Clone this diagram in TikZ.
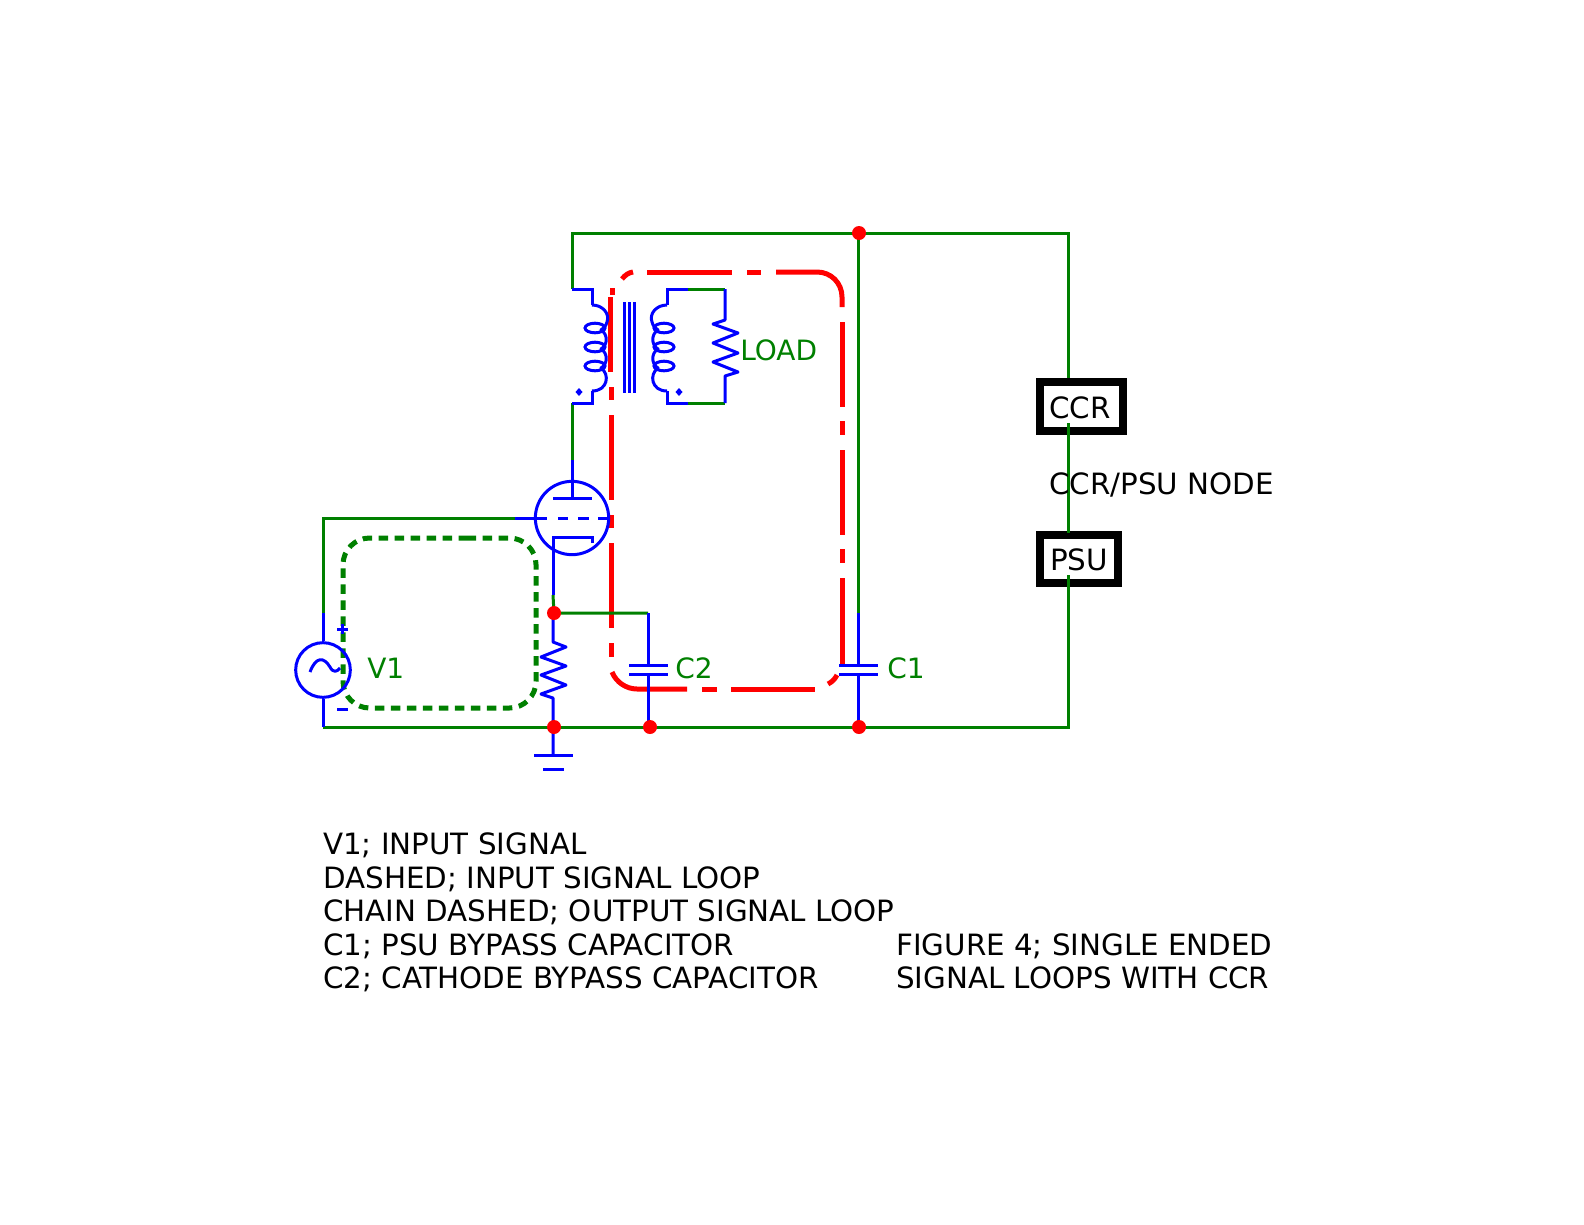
\documentclass[tikz,border=0pt]{standalone}
\usepackage{fontspec}
\setmainfont{DejaVu Sans}
\definecolor{wgreen}{RGB}{0,128,0}
\definecolor{wblue}{RGB}{0,0,255}
\definecolor{wred}{RGB}{255,0,0}
\pgfdeclarelayer{fg}
\pgfsetlayers{main,fg}
\tikzset{
  gw/.style={draw=wgreen,line width=2.25pt,line join=miter},
  bw/.style={draw=wblue,line width=2.25pt,line join=miter},
  zig/.style={draw=wblue,line width=2.25pt,line join=round},
  redloop/.style={draw=wred,line width=3.75pt},
  greenloop/.style={draw=wgreen,line width=3.75pt,rounded corners=20pt,dash pattern=on 7pt off 5pt},
  junction/.style={circle,fill=wred,inner sep=0pt,minimum size=10.5pt},
  boxed/.style={draw=black,fill=white,line width=6.2pt,inner sep=0pt},
  glabel/.style={text=wgreen,font=\fontsize{21pt}{25pt}\selectfont,anchor=west,inner sep=0pt},
  klabel/.style={text=black,font=\fontsize{22pt}{26pt}\selectfont,anchor=base west,inner sep=0pt},
  tubeshape/.style={draw=wblue,line width=2.25pt,circle,inner sep=0pt,minimum size=55pt},
  sourceshape/.style={draw=wblue,line width=2.25pt,circle,inner sep=0pt,minimum size=41pt}
}
\begin{document}
\begin{tikzpicture}[x=0.75pt,y=-0.75pt]
\path[use as bounding box,fill=white] (0,0) rectangle (1584,1224);
% ---- loops (underneath)
\draw[greenloop] (440,538) -- (536,538) -- (536,708) -- (343,708) -- (343,538) -- cycle;
\draw[redloop] (622,279) .. controls (625,275) and (629,272.5) .. (633,272);
\draw[redloop] (647,272) -- (732,272);
\draw[redloop] (747,272) -- (761,272);
\draw[redloop] (776,272) -- (817,272) .. controls (831,272) and (842,283) .. (842,297) -- (842,307);
\draw[redloop] (842,322) -- (842,407);
\draw[redloop] (842,421) -- (842,435);
\draw[redloop] (842,450) -- (842,535);
\draw[redloop] (842,549) -- (842,563);
\draw[redloop] (842,578) -- (842,665);
\draw[redloop] (828,684) .. controls (832,682) and (835,679) .. (837,675);
\draw[redloop] (731,689) -- (815,689);
\draw[redloop] (702,689) -- (717,689);
\draw[redloop] (612,672) .. controls (616,682) and (626,689) .. (637,689) -- (687,689);
\draw[redloop] (611,643) -- (611,657);
\draw[redloop] (611,543) -- (611,628);
\draw[redloop] (611,515) -- (611,528);
\draw[redloop] (611,415) -- (611,500);
\draw[redloop] (611,387) -- (611,400);
\draw[redloop] (610,297) -- (610,372);
\draw[redloop] (612,288) -- (612,295);
% ---- named points
\coordinate (tl) at (572,233);
\coordinate (tr) at (1068,233);
\coordinate (bl) at (323,727);
\coordinate (br) at (1068,727);
\coordinate (pritop) at (572,289);
\coordinate (pribot) at (572,403);
\coordinate (gridend) at (515,518);
\coordinate (gridcorner) at (323,518);
\coordinate (srctop) at (323,613);
\coordinate (c1split) at (858,613);
\coordinate (c2top) at (648,613);
\coordinate (cathsplit) at (553,595);
\coordinate (anodesplit) at (572,460);
% ---- boxes
\node[boxed,minimum width=62pt,minimum height=36.5pt] (ccr) at (1081.5,406.5) {};
\node[boxed,minimum width=58.5pt,minimum height=36.5pt] (psu) at (1079,559) {};
% ---- junctions
\begin{pgfonlayer}{fg}
\node[junction] (jtop) at (859,233) {};
\node[junction] (jcath) at (554,613) {};
\node[junction] (jgnd) at (554,727) {};
\node[junction] (jc2) at (650,727) {};
\node[junction] (jc1) at (859,727) {};
\end{pgfonlayer}
% ---- tube and source
\node[tubeshape] (tube) at (572,518) {};
\node[sourceshape] (src) at (323,670) {};
% ---- green wires
\draw[gw] (pritop) -- (tl) -- (tr) -- (tr |- ccr.north);
\draw[gw] (1068,423) -- (1068,533);
\draw[gw] (1068,575) -- (br) -- (bl);
\draw[gw] (jtop.center) ++(-1,0) -- (c1split);
\draw[gw] (pribot) -- (anodesplit);
\draw[gw] (gridend) -- (gridcorner) -- (srctop);
\draw[gw] (cathsplit) -- (jcath.center) -- (c2top);
\draw[gw] (688,289) -- (725,289);
\draw[gw] (688,403) -- (725,403);
% ---- blue wires
\draw[bw] (srctop) -- (src.north);
\draw[bw] (src.south) -- (bl);
\draw[bw] (anodesplit) -- (572,498);
\draw[bw] (553,498) -- (592,498);
\draw[bw] (gridend) -- (547,518);
\draw[bw] (558,518) -- (568,518);
\draw[bw] (578,518) -- (589,518);
\draw[bw] (598,518) -- (609,518);
\draw[bw] (592,543) -- (592,537) -- (553,537) -- (cathsplit);
% cathode resistor
\draw[zig] (jcath.center) ++(-1,0) -- (553,642) -- (566,647) -- (541,657) -- (566,666) -- (541,675) -- (566,685) -- (541,694) -- (553,698) -- (553,755);
% ground
\draw[bw] (534,755) -- (573,755);
\draw[bw] (543,769) -- (564,769);
% capacitors
\draw[bw] (c2top) -- (648,665);
\draw[bw] (629,665) -- (668,665);
\draw[bw] (629,674) -- (668,674);
\draw[bw] (648,674) -- (648,727);
\draw[bw] (c1split) -- (858,665);
\draw[bw] (839,665) -- (878,665);
\draw[bw] (839,674) -- (878,674);
\draw[bw] (858,674) -- (858,727);
% source details
\draw[bw,line join=round] (310,672) .. controls (316,656) and (324,657) .. (330,667) .. controls (333,673) and (337,672) .. (340,668);
\draw[bw] (337,629) -- (348,629);
\draw[bw] (342.5,624) -- (342.5,634);
\draw[bw] (337,709) -- (348,709);
% transformer core
\draw[bw] (624,302) -- (624,393);
\draw[bw] (629,302) -- (629,393);
\draw[bw] (634,302) -- (634,393);
% windings: primary (s=1) and secondary mirrored (s=-1)
\foreach \s/\o in {1/0,-1/1259}{
  \draw[bw,line join=round] ({\o+\s*592},305) .. controls ({\o+\s*603},305) and ({\o+\s*610},314) .. ({\o+\s*607},322) .. controls ({\o+\s*606},326) and ({\o+\s*604},328) .. ({\o+\s*601},330)
     .. controls ({\o+\s*608},334) and ({\o+\s*608},345) .. ({\o+\s*601},349)
     .. controls ({\o+\s*608},353) and ({\o+\s*608},364) .. ({\o+\s*601},368)
     .. controls ({\o+\s*610},374) and ({\o+\s*608},391) .. ({\o+\s*592},391);
  \foreach \yy in {328,347,366}
    \draw[bw,line width=2.25pt] ({\o+\s*595},\yy) ellipse [x radius=7.5pt,y radius=3.6pt];
}
\draw[bw] (pritop) -- (592,289) -- (592,305);
\draw[bw] (592,391) -- (592,403) -- (pribot);
\draw[bw] (688,289) -- (667,289) -- (667,305);
\draw[bw] (667,391) -- (667,403) -- (688,403);
% load
\draw[zig] (725,289) -- (725,320) -- (713,324) -- (738,333) -- (713,343) -- (738,353) -- (713,362) -- (738,372) -- (725,376) -- (725,403);
% phase dots
\fill[wblue] (579,388) -- (582.5,392) -- (579,396) -- (575.5,392) -- cycle;
\fill[wblue] (679,388) -- (682.5,392) -- (679,396) -- (675.5,392) -- cycle;
% ---- re-stroke of box inner stubs
\draw[gw] (1068,423) -- (1068,436);
\draw[gw] (1068,575) -- (1068,588);
% ---- labels
\node[glabel] (lv1) at (367,668) {V1};
\node[glabel] (lc2) at (675,668) {C2};
\node[glabel] (lc1) at (887,668) {C1};
\node[glabel] (lload) at (740,350) {LOAD};
\node[klabel] (tccr) at (1049,418) {CCR};
\node[klabel] (tpsu) at (1050,570) {PSU};
\node[klabel] (tnode) at (1049,494) {CCR/PSU NODE};
\node[klabel] (t1) at (323,854.5) {V1; INPUT SIGNAL};
\node[klabel] (t2) at (323,888.5) {DASHED; INPUT SIGNAL LOOP};
\node[klabel] (t3) at (323,921.5) {CHAIN DASHED; OUTPUT SIGNAL LOOP};
\node[klabel] (t4) at (323,955.5) {C1; PSU BYPASS CAPACITOR};
\node[klabel] (t5) at (323,988.5) {C2; CATHODE BYPASS CAPACITOR};
\node[klabel] (t6) at (896,955.5) {FIGURE 4; SINGLE ENDED};
\node[klabel] (t7) at (896,988.5) {SIGNAL LOOPS WITH CCR};
\end{tikzpicture}
\end{document}
